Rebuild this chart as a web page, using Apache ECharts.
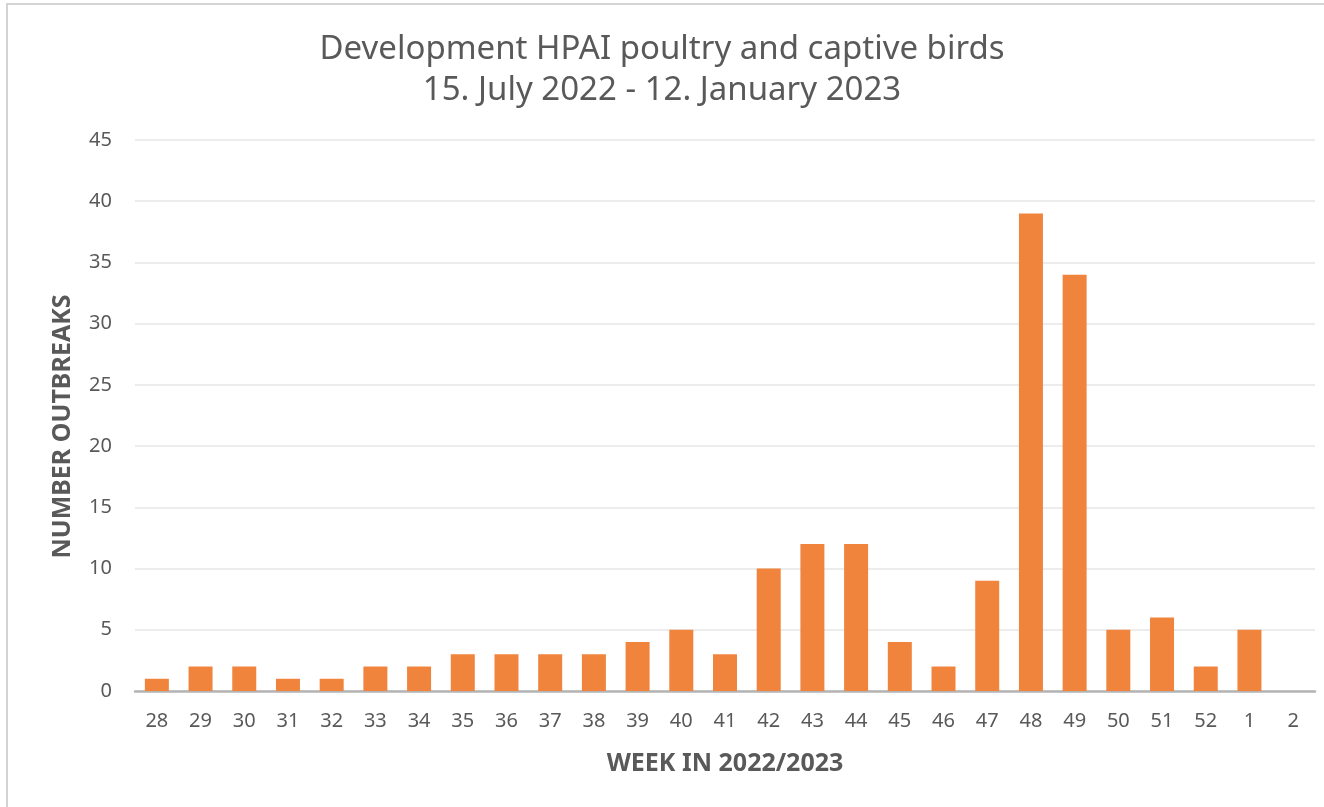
<!DOCTYPE html>
<html>
<head>
<meta charset="utf-8">
<script src="https://cdn.jsdelivr.net/npm/echarts@6/dist/echarts.min.js"></script>
<style>
html,body{margin:0;padding:0;background:#fff;overflow:hidden;}
#frame{position:absolute;left:6px;top:3px;width:1340px;height:820px;border:2px solid #d4d4d4;box-sizing:border-box;}
#chart{position:absolute;left:0;top:0;width:1324px;height:807px;}
</style>
</head>
<body>
<div id="frame"></div>
<div id="chart"></div>
<script>
const weeks = ['28','29','30','31','32','33','34','35','36','37','38','39','40','41','42','43','44','45','46','47','48','49','50','51','52','1','2'];
const outbreaks = [1,2,2,1,1,2,2,3,3,3,3,4,5,3,10,12,12,4,2,9,39,34,5,6,2,5,0];
const yTicks = [0,5,10,15,20,25,30,35,40,45];

const chart = echarts.init(document.getElementById('chart'));
chart.setOption({
  animation: false,
  title: {
    text: 'Development HPAI poultry and captive birds\n15. July 2022 - 12. January 2023',
    left: 'center',
    top: 24,
    textStyle: {fontFamily: 'Noto Sans', fontSize: 33, fontWeight: 'normal', color: '#595959', lineHeight: 41}
  },
  grid: {left: 135, right: 9, top: 140, bottom: 116, containLabel: false},
  xAxis: {
    type: 'category',
    data: weeks,
    name: 'WEEK IN 2022/2023',
    nameLocation: 'middle',
    nameGap: 60,
    nameTextStyle: {fontFamily: 'Noto Sans', fontSize: 25, fontWeight: 'bold', color: '#595959'},
    axisLine: {lineStyle: {color: '#b4b4b4', width: 2.5}},
    axisTick: {show: false},
    axisLabel: {fontFamily: 'Noto Sans', fontSize: 20, color: '#595959', margin: 20, interval: 0}
  },
  yAxis: {
    type: 'value',
    min: yTicks[0],
    max: yTicks[yTicks.length-1],
    interval: 5,
    name: 'NUMBER OUTBREAKS',
    nameLocation: 'middle',
    nameGap: 60,
    nameTextStyle: {fontFamily: 'Noto Sans', fontSize: 25, fontWeight: 'bold', color: '#595959', padding: [0, 22, 0, 0]},
    axisLine: {show: false},
    axisTick: {show: false},
    axisLabel: {fontFamily: 'Noto Sans', fontSize: 20, color: '#595959', margin: 23},
    splitLine: {lineStyle: {color: '#e6e6e6', width: 1.5}}
  },
  series: [{
    type: 'bar',
    data: outbreaks,
    barWidth: 24,
    itemStyle: {color: '#f0843c'}
  }]
});
</script>
</body>
</html>
